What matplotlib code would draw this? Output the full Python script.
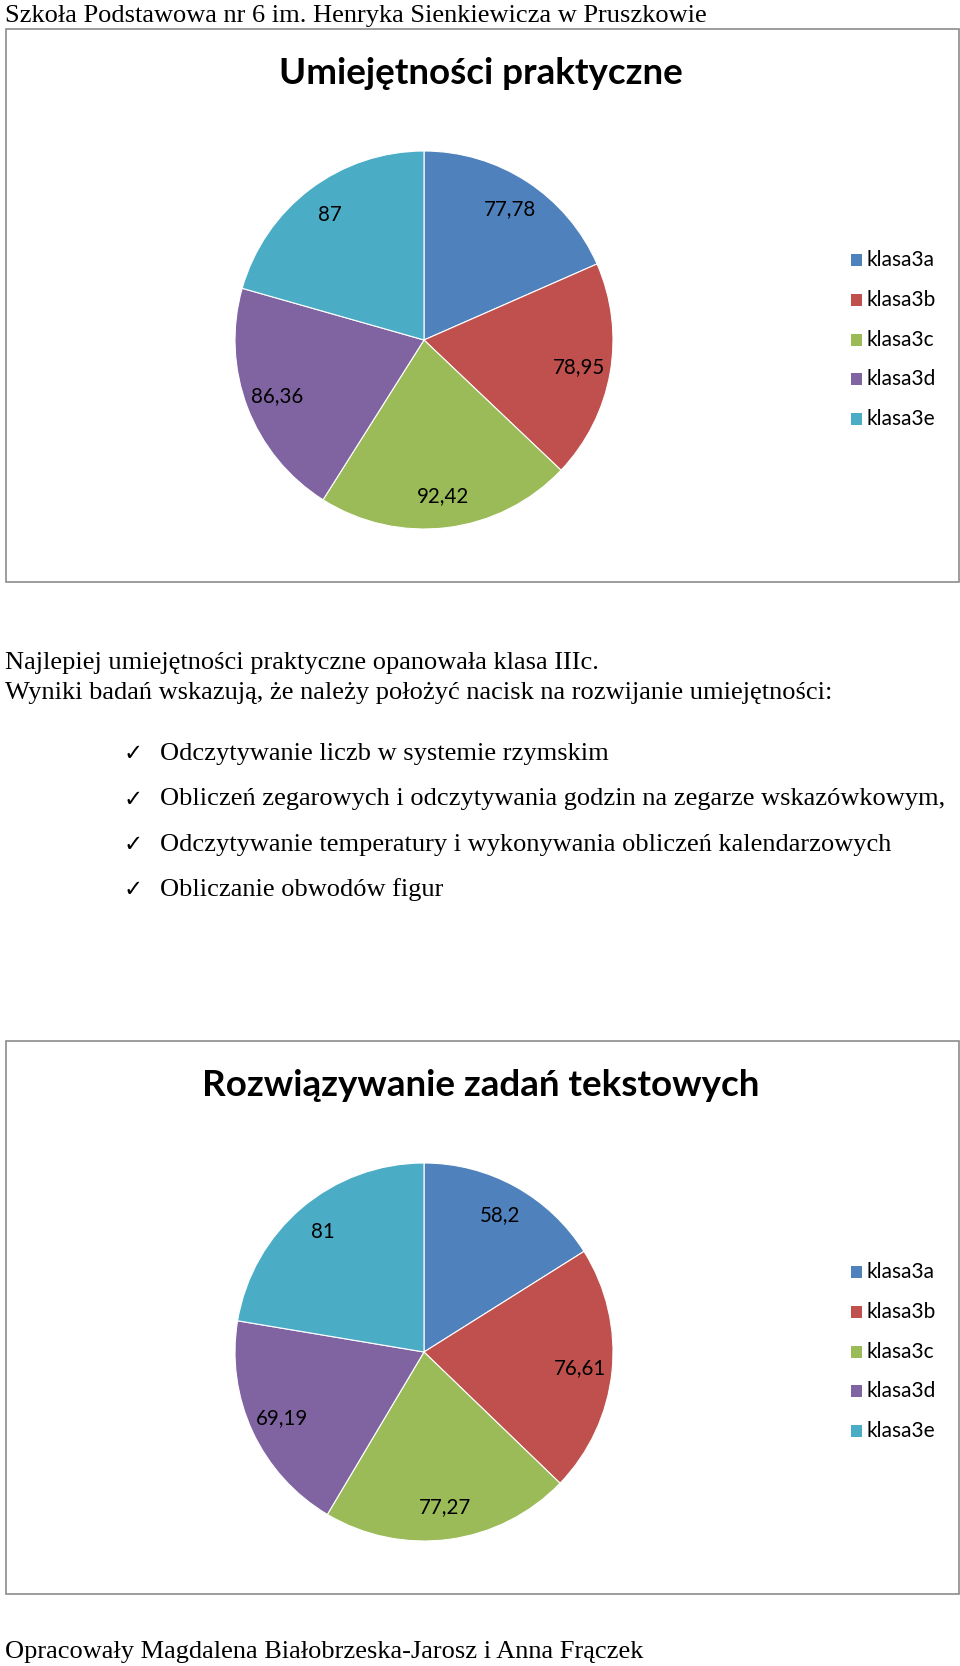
import matplotlib
matplotlib.use('Agg')
import matplotlib.pyplot as plt
from matplotlib.patches import Rectangle

# Dane
klasy = ['klasa3a', 'klasa3b', 'klasa3c', 'klasa3d', 'klasa3e']
kolory = ['#4F81BD', '#C0504D', '#9BBB59', '#8064A2', '#4BACC6']
wyniki_prakt = [77.78, 78.95, 92.42, 86.36, 87]
etykiety_prakt = ['77,78', '78,95', '92,42', '86,36', '87']
wyniki_tekst = [58.2, 76.61, 77.27, 69.19, 81]
etykiety_tekst = ['58,2', '76,61', '77,27', '69,19', '81']

naglowek = 'Szkoła Podstawowa nr 6 im. Henryka Sienkiewicza w Pruszkowie'
wniosek = ['Najlepiej umiejętności praktyczne opanowała klasa IIIc.',
           'Wyniki badań wskazują, że należy położyć nacisk na rozwijanie umiejętności:']
punkty = ['Odczytywanie liczb w systemie rzymskim',
          'Obliczeń zegarowych i odczytywania godzin na zegarze wskazówkowym,',
          'Odczytywanie temperatury i wykonywania obliczeń kalendarzowych',
          'Obliczanie obwodów figur']
stopka = 'Opracowały Magdalena Białobrzeska-Jarosz i Anna Frączek'

W, H = 960, 1666
fig = plt.figure(figsize=(W / 100, H / 100), dpi=100)
fig.patch.set_facecolor('white')

SERIF = ['Liberation Serif', 'DejaVu Serif']
SANS = ['Lato', 'DejaVu Sans']
ROZMIAR = 19  # tekst dokumentu


# pozycja w pikselach (od gory) -> ulamek figury
def fx(x):
    return x / W


def fy(y):
    return 1 - y / H


def ramka(y0, y1):
    fig.patches.append(Rectangle((fx(6), fy(y1)), fx(953), (y1 - y0) / H,
                                 transform=fig.transFigure, fill=False,
                                 edgecolor='#8c8c8c', linewidth=1.2))


def wykres(y_top, tytul, wartosci, etykiety):
    # ramka wykresu
    ramka(y_top, y_top + 553)
    fig.text(fx(481), fy(y_top + 45), tytul, ha='center', va='center',
             fontsize=26.5, fontweight='bold', family=SANS)
    r = 189
    cx, cy = 424, y_top + 311
    ax = fig.add_axes([fx(cx - r), fy(cy + r), 2 * r / W, 2 * r / H])
    wedges, texts, auto = ax.pie(wartosci, colors=kolory, startangle=90,
                                 counterclock=False, autopct='%1.1f',
                                 pctdistance=0.83,
                                 wedgeprops=dict(edgecolor='white', linewidth=0.8),
                                 textprops=dict(fontsize=14.8, family=SANS, color='black'))
    for t, e in zip(auto, etykiety):
        t.set_text(e)
    ax.set_xlim(-1, 1)
    ax.set_ylim(-1, 1)
    ax.set_aspect('equal')
    # legenda
    for i, k in enumerate(klasy):
        y = y_top + 231 + i * 39.8
        fig.patches.append(Rectangle((fx(851), fy(y + 6)), fx(11), 12 / H,
                                     transform=fig.transFigure,
                                     facecolor=kolory[i], edgecolor='none'))
        fig.text(fx(867), fy(y), k, ha='left', va='center', fontsize=15, family=SANS)


fig.text(fx(5), fy(16), naglowek, ha='left', va='center', fontsize=ROZMIAR, family=SERIF)

wykres(29, 'Umiejętności praktyczne', wyniki_prakt, etykiety_prakt)

fig.text(fx(5), fy(663), wniosek[0], ha='left', va='center', fontsize=ROZMIAR, family=SERIF)
fig.text(fx(5), fy(693), wniosek[1], ha='left', va='center', fontsize=ROZMIAR, family=SERIF)
for i, p in enumerate(punkty):
    y = 754 + i * 45.3
    fig.text(fx(124), fy(y), '✓', ha='left', va='center', fontsize=16.5, family=['DejaVu Sans'])
    fig.text(fx(160), fy(y), p, ha='left', va='center', fontsize=ROZMIAR, family=SERIF)

wykres(1041, 'Rozwiązywanie zadań tekstowych', wyniki_tekst, etykiety_tekst)

fig.text(fx(5), fy(1652), stopka, ha='left', va='center', fontsize=ROZMIAR, family=SERIF)

fig.savefig('out.png', dpi=100, facecolor='white')
